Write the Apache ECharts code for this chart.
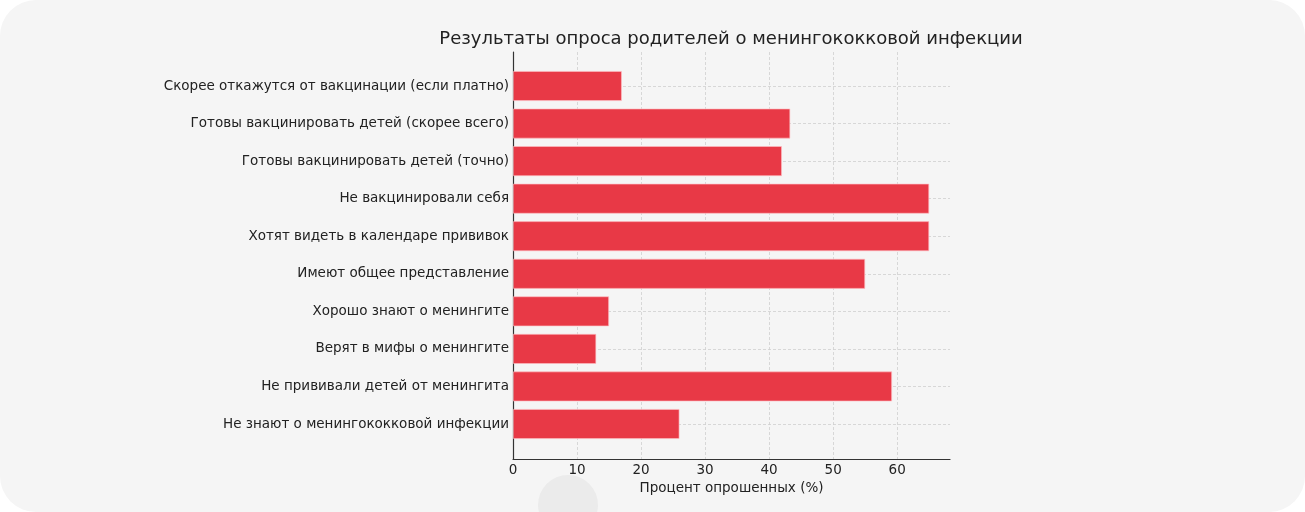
<!DOCTYPE html>
<html>
<head>
<meta charset="utf-8">
<script src="https://cdn.jsdelivr.net/npm/echarts@6/dist/echarts.min.js"></script>
<style>
  html, body { margin: 0; padding: 0; background: #ffffff; }
  #wrap { width: 1305px; height: 512px; background: #f5f5f5; border-radius: 36px; overflow: hidden; }
  #chart { width: 1305px; height: 512px; }
</style>
</head>
<body>
<div id="wrap"><div id="chart"></div></div>
<script>
const categories = [
  'Скорее откажутся от вакцинации (если платно)',
  'Готовы вакцинировать детей (скорее всего)',
  'Готовы вакцинировать детей (точно)',
  'Не вакцинировали себя',
  'Хотят видеть в календаре прививок',
  'Имеют общее представление',
  'Хорошо знают о менингите',
  'Верят в мифы о менингите',
  'Не прививали детей от менингита',
  'Не знают о менингококковой инфекции'
];
const percentValues = [17, 43.3, 42, 65, 65, 55, 15, 13, 59.2, 26];
const xTickValues = [0, 10, 20, 30, 40, 50, 60];
const titleText = 'Результаты опроса родителей о менингококковой инфекции';
const xAxisName = 'Процент опрошенных (%)';

const xMax = Math.max(...percentValues) * 1.05;
const font = 'DejaVu Sans';
const textColor = '#222222';
const axisColor = '#333333';
const gridLineStyle = { color: '#cfcfcf', width: 0.8, type: [3, 2] };

const chart = echarts.init(document.getElementById('chart'), null, { renderer: 'canvas' });
chart.setOption({
  backgroundColor: 'transparent',
  animation: false,
  title: {
    text: titleText,
    left: 731,
    top: 30,
    textAlign: 'center',
    padding: 0,
    textStyle: { fontFamily: font, fontSize: 18, fontWeight: 'normal', color: textColor }
  },
  graphic: [{
    type: 'circle', shape: { cx: 568, cy: 505, r: 30 },
    style: { fill: '#ebebeb' }, z: -1, silent: true
  }],
  grid: [
    { left: 513, top: 52, width: 437, height: 407, containLabel: false },
    { left: 513, top: 86, width: 437, height: 338, containLabel: false }
  ],
  xAxis: [
    {
      gridIndex: 0, type: 'value', min: 0, max: xMax, interval: 10,
      axisLine: { show: true, lineStyle: { color: axisColor, width: 1.2 } },
      axisTick: { show: false },
      axisLabel: { show: true, margin: 4, fontFamily: font, fontSize: 13.5, color: textColor, customValues: xTickValues },
      splitLine: { show: true, showMinLine: false, showMaxLine: false, lineStyle: gridLineStyle },
      name: xAxisName, nameLocation: 'middle', nameGap: 19,
      nameTextStyle: { fontFamily: font, fontSize: 13.5, color: textColor }
    },
    {
      gridIndex: 1, type: 'value', min: 0, max: xMax, show: false
    }
  ],
  yAxis: [
    {
      gridIndex: 0, type: 'value', min: 0, max: 1,
      axisLine: { show: true, lineStyle: { color: axisColor, width: 1.2 } },
      axisTick: { show: false }, axisLabel: { show: false }, splitLine: { show: false }
    },
    {
      gridIndex: 1, type: 'category', inverse: true, boundaryGap: false, data: categories,
      axisLine: { show: false },
      axisTick: { show: false },
      axisLabel: { show: true, margin: 4, fontFamily: font, fontSize: 13.5, color: textColor, interval: 0 },
      splitLine: { show: true, lineStyle: gridLineStyle }
    }
  ],
  series: [{
    type: 'bar', xAxisIndex: 1, yAxisIndex: 1, data: percentValues,
    barWidth: 30, clip: false,
    itemStyle: { color: '#E83946', borderColor: 'rgba(255,190,195,0.8)', borderWidth: 0.8 },
    z: 3
  }]
});
</script>
</body>
</html>
